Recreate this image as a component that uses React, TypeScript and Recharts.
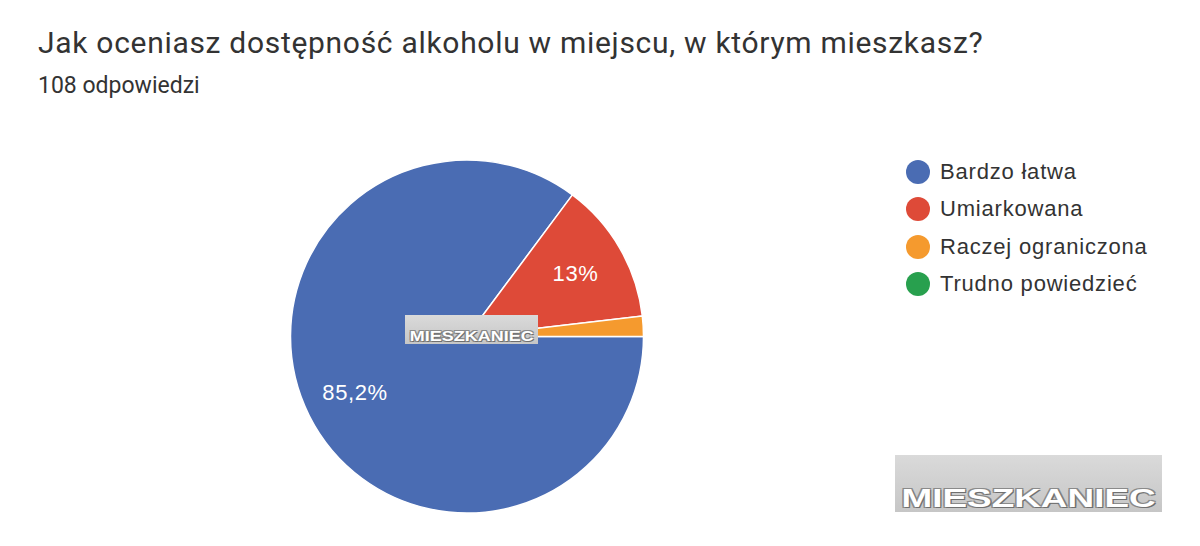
import { PieChart, Pie, Cell, Legend } from "recharts"

const categories = ["Bardzo łatwa", "Umiarkowana", "Raczej ograniczona", "Trudno powiedzieć"]
const counts = [92, 14, 2, 0]
const sliceLabels = ["85,2%", "13%", "", ""]
const COLORS = ["#4a6cb3", "#de4a38", "#f59a2e", "#28a04e"]

const pieData = categories.map((name, i) => ({ name, value: counts[i], label: sliceLabels[i] }))

const RAD = Math.PI / 180

// etykieta procentowa wewnątrz wycinka
const renderLabel = (props: any) => {
  const { cx, cy, midAngle, outerRadius, index } = props
  const text = pieData[index].label
  if (!text) return null
  const r = outerRadius * 0.71
  const x = cx + r * Math.cos(-midAngle * RAD)
  const y = cy + r * Math.sin(-midAngle * RAD)
  return (
    <text x={x} y={y} fill="#fff" fontSize={22} letterSpacing={0.6} fontFamily="Liberation Sans, Arial" textAnchor="middle" dominantBaseline="central">
      {text}
    </text>
  )
}

const renderLegend = () => (
  <div style={{ fontFamily: "Liberation Sans, Arial", fontSize: 22, letterSpacing: 0.8, color: "#333" }}>
    {categories.map((c, i) => (
      <div key={c} style={{ display: "flex", alignItems: "center", height: 37.5 }}>
        <span style={{ width: 24, height: 24, borderRadius: 12, background: COLORS[i], display: "inline-block", marginRight: 10 }} />
        <span>{c}</span>
      </div>
    ))}
  </div>
)

function Watermark({ left, top, width, height, fontSize, stretch }: { left: number; top: number; width: number; height: number; fontSize: number; stretch: number }) {
  return (
    <div
      style={{
        position: "absolute",
        left,
        top,
        width,
        height,
        background: "linear-gradient(#dadada, #c6c6c6)",
        display: "flex",
        alignItems: "flex-end",
        justifyContent: "center",
        fontFamily: "Liberation Sans, Arial",
        fontWeight: 900,
        fontSize,
        color: "#fff",
        lineHeight: 1,
        paddingBottom: 1,
        boxSizing: "border-box",
      }}
    >
      <span
        style={{
          display: "inline-block",
          transform: `scaleX(${stretch})`,
          textShadow: "1px 1px 0 #6f6f6f, -1px -1px 0 #8a8a8a, 1px -1px 0 #8a8a8a, -1px 1px 0 #8a8a8a",
        }}
      >
        MIESZKANIEC
      </span>
    </div>
  )
}

export default function App() {
  return (
    <div style={{ position: "absolute", left: 0, top: 0, width: 1200, height: 546, background: "#fff", overflow: "hidden" }}>
      <div style={{ position: "absolute", left: 38, top: 25, fontFamily: "Roboto", fontSize: 30, letterSpacing: 0.7, color: "#333", whiteSpace: "nowrap" }}>
        Jak oceniasz dostępność alkoholu w miejscu, w którym mieszkasz?
      </div>
      <div style={{ position: "absolute", left: 38, top: 72, fontFamily: "Roboto", fontSize: 23, color: "#333" }}>
        108 odpowiedzi
      </div>
      <div style={{ position: "absolute", left: 0, top: 0 }}>
        <PieChart width={1200} height={546} margin={{ top: 0, right: 0, bottom: 0, left: 0 }}>
          <Pie
            data={pieData}
            dataKey="value"
            cx={467}
            cy={336.5}
            outerRadius={176.5}
            startAngle={0}
            endAngle={-360}
            stroke="#fff"
            strokeWidth={1.5}
            labelLine={false}
            label={renderLabel}
            isAnimationActive={false}
          >
            {pieData.map((d, i) => (
              <Cell key={d.name} fill={COLORS[i]} />
            ))}
          </Pie>
          <Legend
            layout="vertical"
            verticalAlign="top"
            align="right"
            wrapperStyle={{ position: "absolute", left: 906, top: 153, right: "auto", width: 290 }}
            content={renderLegend}
          />
        </PieChart>
      </div>
      <Watermark left={405} top={315} width={133} height={29} fontSize={15} stretch={1.2} />
      <Watermark left={895} top={455} width={267} height={57} fontSize={26} stretch={1.42} />
    </div>
  )
}
